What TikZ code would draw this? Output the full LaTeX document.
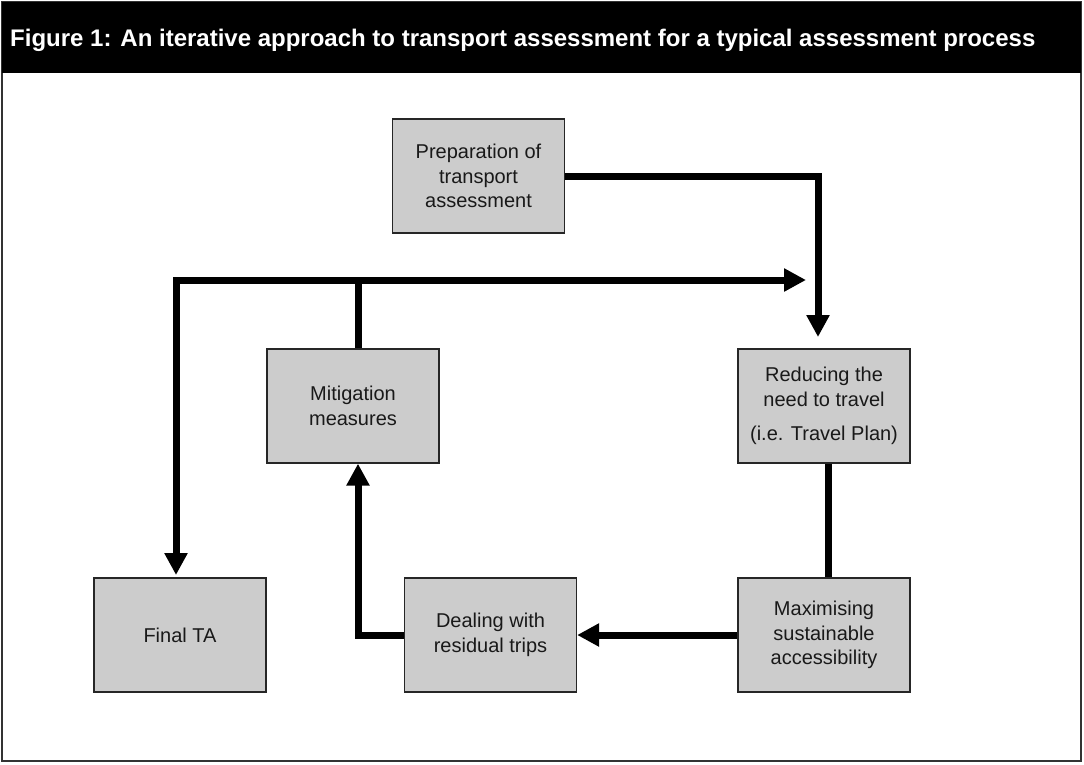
\documentclass[tikz,border=0pt]{standalone}
\usepackage{fontspec}
\setmainfont{Liberation Sans}
\usetikzlibrary{arrows.meta}

\tikzset{
  stagebox/.style={draw=black!85, line width=1.3pt, fill=black!20, minimum width=172pt, minimum height=114pt,
    align=center, font=\fontsize{20}{24.5}\selectfont, text=black!90, inner sep=0pt},
  flow/.style={line width=7pt},
  flowarrow/.style={flow, -{Triangle[length=22pt,width=22pt]}}
}

\begin{document}
\begin{tikzpicture}[x=1pt,y=-1pt]

\useasboundingbox (0,0) rectangle (1084,764);
\fill[white] (0,0) rectangle (1084,764);

% frame and title band
\draw[black!80, line width=2pt] (2,2) rectangle (1081,761);
\fill[black] (2,2) rectangle (1081,73);
\node[anchor=base west, text=white, font=\bfseries\fontsize{24}{28}\selectfont, inner sep=0pt] (title) at (10,46)
  {Figure 1: An iterative approach to transport assessment for a typical assessment process};

% stages
\node[stagebox] (prep) at (478.5,176) {Preparation of\\transport\\assessment};
\node[stagebox] (reduce) at (824,406) {Reducing the\\need to travel\\[10pt](i.e. Travel Plan)};
\node[stagebox] (mitig) at (353,406) {Mitigation\\measures};
\node[stagebox] (final) at (180,635) {Final TA};
\node[stagebox] (deal) at (490.5,635) {Dealing with\\residual trips};
\node[stagebox] (maxim) at (824,635) {Maximising\\sustainable\\accessibility};

\coordinate (intoreduce) at (818,337);
\coordinate (looptip) at (806,280);
\coordinate (loopleft) at (176,280);
\coordinate (intofinal) at (176,575);

% connectors
\draw[flowarrow] (prep.east) -| (intoreduce);
\draw[flowarrow] ([xshift=5pt]mitig.north) |- (looptip);
\draw[flowarrow] ([xshift=5pt]mitig.north |- looptip) -- (loopleft) -- (intofinal);
\draw[flow] ([xshift=4pt]reduce.south) -- ([xshift=4pt]maxim.north);
\draw[flowarrow] (maxim.west) -- (deal.east);
\draw[flowarrow] (deal.west) -| ([xshift=5pt]mitig.south);

\end{tikzpicture}
\end{document}
